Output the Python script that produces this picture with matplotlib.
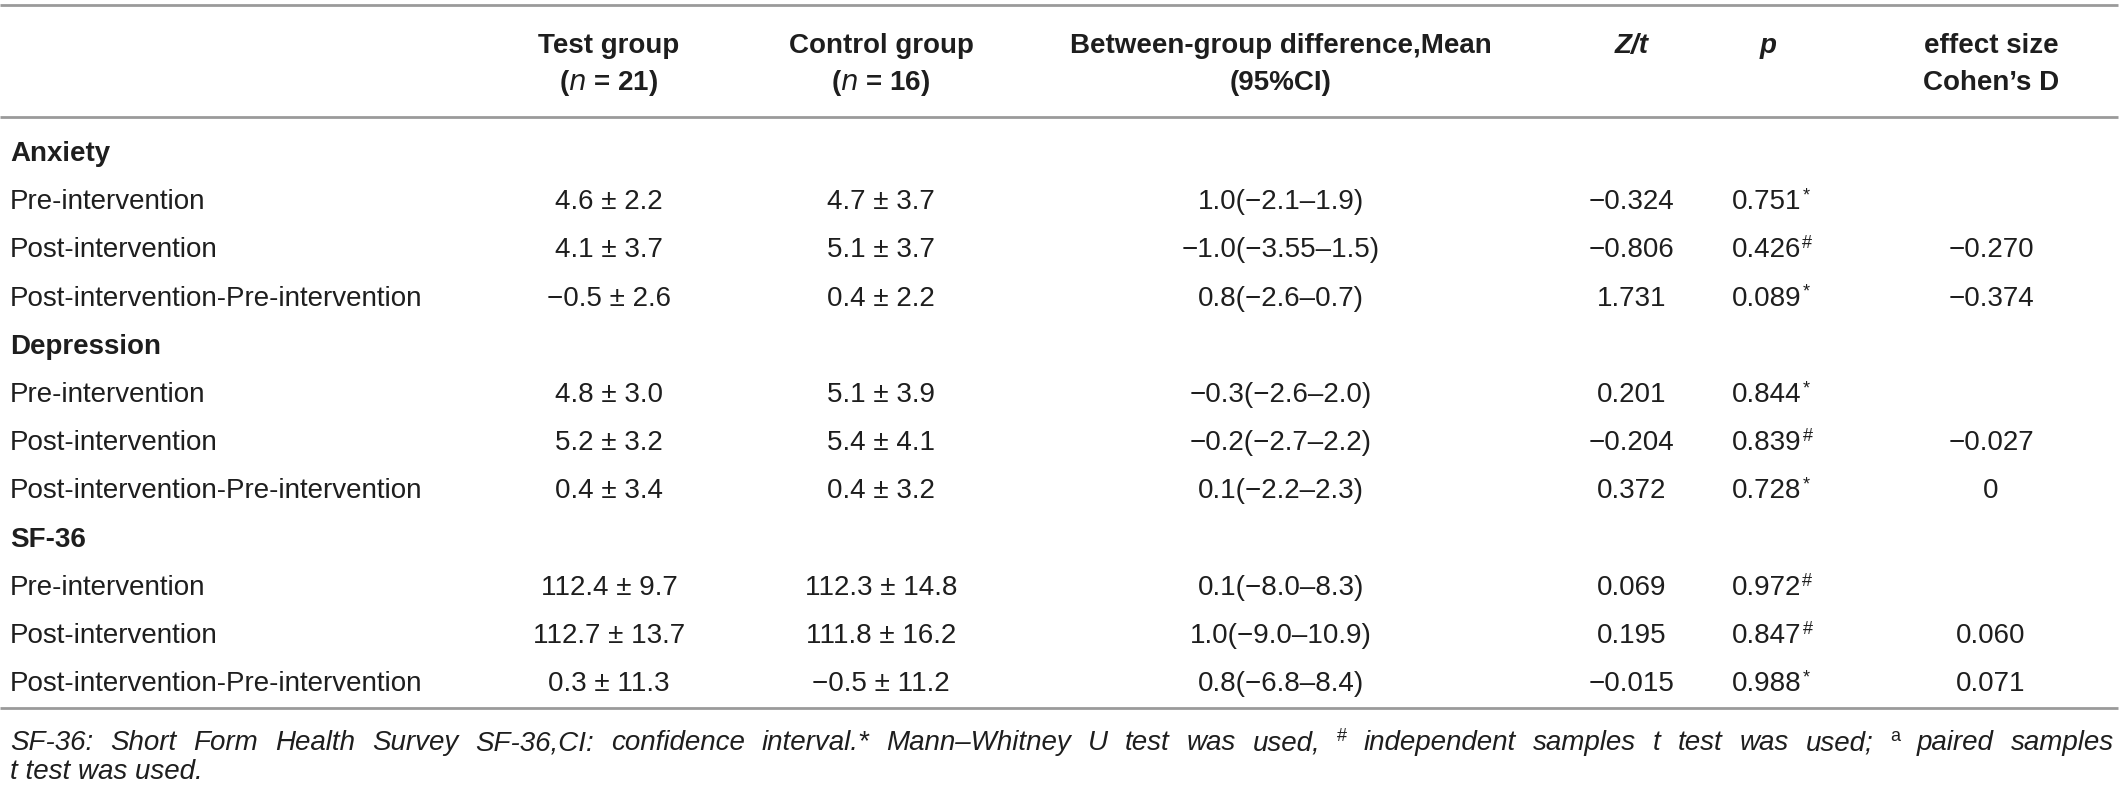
import matplotlib
matplotlib.use("Agg")
import matplotlib.pyplot as plt

plt.rcParams['font.family'] = ['Liberation Sans', 'DejaVu Sans']

# ---------------- data ----------------
col_headers_1 = ["Test group", "Control group", "Between-group difference,Mean", "Z/t", "p", "effect size"]
col_headers_2 = ["(n = 21)", "(n = 16)", "(95%CI)", "", "", "Cohen\u2019s D"]
sections = ["Anxiety", "Depression", "SF-36"]
row_labels = ["Pre-intervention", "Post-intervention", "Post-intervention-Pre-intervention"]

test_group = ["4.6 \u00b1 2.2", "4.1 \u00b1 3.7", "\u22120.5 \u00b1 2.6",
              "4.8 \u00b1 3.0", "5.2 \u00b1 3.2", "0.4 \u00b1 3.4",
              "112.4 \u00b1 9.7", "112.7 \u00b1 13.7", "0.3 \u00b1 11.3"]
control_group = ["4.7 \u00b1 3.7", "5.1 \u00b1 3.7", "0.4 \u00b1 2.2",
                 "5.1 \u00b1 3.9", "5.4 \u00b1 4.1", "0.4 \u00b1 3.2",
                 "112.3 \u00b1 14.8", "111.8 \u00b1 16.2", "\u22120.5 \u00b1 11.2"]
between_diff = ["1.0(\u22122.1\u20131.9)", "\u22121.0(\u22123.55\u20131.5)", "0.8(\u22122.6\u20130.7)",
                "\u22120.3(\u22122.6\u20132.0)", "\u22120.2(\u22122.7\u20132.2)", "0.1(\u22122.2\u20132.3)",
                "0.1(\u22128.0\u20138.3)", "1.0(\u22129.0\u201310.9)", "0.8(\u22126.8\u20138.4)"]
z_t = ["\u22120.324", "\u22120.806", "1.731",
       "0.201", "\u22120.204", "0.372",
       "0.069", "0.195", "\u22120.015"]
p_values = ["0.751", "0.426", "0.089",
            "0.844", "0.839", "0.728",
            "0.972", "0.847", "0.988"]
p_marks = ["*", "#", "*",
           "*", "#", "*",
           "#", "#", "*"]
effect_size = ["", "\u22120.270", "\u22120.374",
               "", "\u22120.027", "0",
               "", "0.060", "0.071"]

# ---------------- layout ----------------
W, H = 2122, 794
fig = plt.figure(figsize=(W / 100, H / 100), dpi=100)
ax = fig.add_axes([0, 0, 1, 1])
ax.set_xlim(0, W)
ax.set_ylim(H, 0)
ax.axis('off')

FS = 20
TXT = '#1e1e1e'
LINE = '#9a9a9a'

label_x = 10
col_x = [609, 881, 1281, 1632, 1768, 1991]
p_left = 1732

# horizontal rules
for yy in (5, 117, 708):
    ax.plot([0, W - 4], [yy, yy], color=LINE, lw=2.0, solid_capstyle='butt')

# headers
hdr1_y, hdr2_y = 53, 90
for i, (h1, h2) in enumerate(zip(col_headers_1, col_headers_2)):
    x = col_x[i]
    if h1 == "Z/t":
        ax.text(x, hdr1_y, "Z/t", ha='center', va='baseline', fontsize=FS,
                fontweight='bold', fontstyle='italic', color=TXT)
    elif h1 == "p":
        ax.text(x, hdr1_y, "p", ha='center', va='baseline', fontsize=FS,
                fontweight='bold', fontstyle='italic', color=TXT)
    else:
        ax.text(x, hdr1_y, h1, ha='center', va='baseline', fontsize=FS,
                fontweight='bold', color=TXT)
    if h2.startswith("(n"):
        # italic n inside parentheses
        txt = h2.replace("n", r"$\mathbf{\it{n}}$", 1)
        ax.text(x, hdr2_y, txt, ha='center', va='baseline', fontsize=FS,
                fontweight='bold', color=TXT)
    elif h2:
        ax.text(x, hdr2_y, h2, ha='center', va='baseline', fontsize=FS,
                fontweight='bold', color=TXT)

# body rows
base0 = 161
step = 48.2
fig.canvas.draw()
renderer = fig.canvas.get_renderer()
inv = ax.transData.inverted()

r = 0
for s, sec in enumerate(sections):
    y = base0 + step * r
    ax.text(label_x, y, sec, ha='left', va='baseline', fontsize=FS,
            fontweight='bold', color=TXT)
    r += 1
    for j, lab in enumerate(row_labels):
        k = s * 3 + j
        y = base0 + step * r
        ax.text(label_x, y, lab, ha='left', va='baseline', fontsize=FS, color=TXT)
        ax.text(col_x[0], y, test_group[k], ha='center', va='baseline', fontsize=FS, color=TXT)
        ax.text(col_x[1], y, control_group[k], ha='center', va='baseline', fontsize=FS, color=TXT)
        ax.text(col_x[2], y, between_diff[k], ha='center', va='baseline', fontsize=FS, color=TXT)
        ax.text(col_x[3], y, z_t[k], ha='center', va='baseline', fontsize=FS, color=TXT)
        t = ax.text(p_left, y, p_values[k], ha='left', va='baseline', fontsize=FS, color=TXT)
        bb = t.get_window_extent(renderer)
        xe = inv.transform((bb.x1, 0))[0]
        ax.text(xe + 1, y - 9, p_marks[k], ha='left', va='baseline', fontsize=13, color=TXT)
        if effect_size[k]:
            ax.text(col_x[5], y, effect_size[k], ha='center', va='baseline', fontsize=FS, color=TXT)
        r += 1

# footnote (justified first line)
foot_line1 = [
    [("SF-36:", 'it')], [("Short", 'it')], [("Form", 'it')], [("Health", 'it')],
    [("Survey", 'it')], [("SF-36,CI:", 'it')], [("confidence", 'it')],
    [("interval.*", 'it')], [("Mann\u2013Whitney", 'it')], [("U", 'it')],
    [("test", 'it')], [("was", 'it')], [("used,", 'it')], [("#", 'sup')],
    [("independent", 'it')], [("samples", 'it')], [("t", 'it')], [("test", 'it')],
    [("was", 'it')], [("used;", 'it')], [("a", 'sup')], [("paired", 'it')],
    [("samples", 'it')],
]
foot_line2 = "t test was used."

foot_y1, foot_y2 = 750, 779
x_start, x_end = 10, W - 8


def seg_width(text, kind):
    if kind == 'sup':
        t = ax.text(0, 0, text, fontsize=13)
    else:
        t = ax.text(0, 0, text, fontsize=FS, fontstyle='italic')
    bb = t.get_window_extent(renderer)
    t.remove()
    return bb.width


widths = [sum(seg_width(tx, kd) for tx, kd in word) for word in foot_line1]
gap = (x_end - x_start - sum(widths)) / (len(foot_line1) - 1)
xc = x_start
for word, w in zip(foot_line1, widths):
    xx = xc
    for tx, kd in word:
        if kd == 'sup':
            ax.text(xx, foot_y1 - 9, tx, ha='left', va='baseline', fontsize=13, color=TXT)
        else:
            ax.text(xx, foot_y1, tx, ha='left', va='baseline', fontsize=FS,
                    fontstyle='italic', color=TXT)
        xx += seg_width(tx, kd)
    xc += w + gap

ax.text(x_start, foot_y2, foot_line2, ha='left', va='baseline', fontsize=FS,
        fontstyle='italic', color=TXT)

fig.savefig("out.png", dpi=100, facecolor='white')
